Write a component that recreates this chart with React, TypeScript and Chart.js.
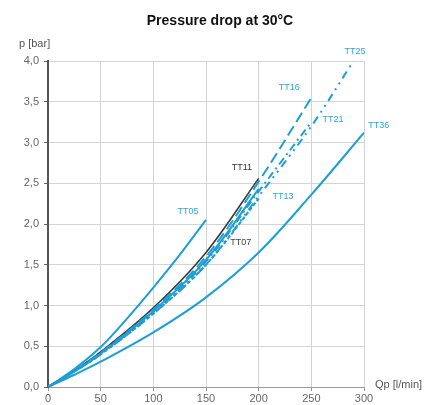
import React, { useEffect, useRef } from "react";
import { Chart, registerables } from "chart.js";

Chart.register(...registerables);

const TITLE = "Pressure drop at 30°C";
const Y_TITLE = "p [bar]";
const X_TITLE = "Qp [l/min]";

const X_TICKS = [0, 50, 100, 150, 200, 250, 300];
const Y_TICKS = [0, 0.5, 1.0, 1.5, 2.0, 2.5, 3.0, 3.5, 4.0];

const TT05_Q = [0, 25, 50, 75, 100, 125, 150];
const TT05_P = [0, 0.22, 0.49, 0.84, 1.22, 1.62, 2.05];

const TT07_Q = [0, 25, 50, 100, 150, 200];
const TT07_P = [0, 0.19, 0.41, 0.93, 1.56, 2.43];

const TT11_Q = [0, 25, 50, 100, 150, 200];
const TT11_P = [0, 0.2, 0.43, 0.97, 1.65, 2.56];

const TT13_Q = [0, 25, 50, 100, 150, 200];
const TT13_P = [0, 0.19, 0.4, 0.9, 1.5, 2.31];

const TT16_Q = [0, 25, 50, 100, 150, 200, 250];
const TT16_P = [0, 0.2, 0.42, 0.95, 1.6, 2.52, 3.55];

const TT21_Q = [0, 25, 50, 100, 150, 200, 250];
const TT21_P = [0, 0.19, 0.41, 0.92, 1.54, 2.4, 3.25];

const TT25_Q = [0, 25, 50, 100, 150, 200, 250, 290];
const TT25_P = [0, 0.19, 0.4, 0.9, 1.5, 2.34, 3.2, 4.0];

const TT36_Q = [0, 25, 50, 100, 150, 200, 250, 300];
const TT36_P = [0, 0.15, 0.31, 0.67, 1.1, 1.65, 2.36, 3.12];

const CYAN = "#1d9fd5";
const GRAY = "#3a3a3a";

type S = { name: string; q: number[]; p: number[]; color: string; dash: number[]; labelColor: string; lq: number; lp: number };

const SERIES: S[] = [
  { name: "TT05", q: TT05_Q, p: TT05_P, color: CYAN, dash: [], labelColor: "#2aa6dc", lq: 133, lp: 2.15 },
  { name: "TT36", q: TT36_Q, p: TT36_P, color: CYAN, dash: [], labelColor: "#2aa6dc", lq: 314, lp: 3.21 },
  { name: "TT13", q: TT13_Q, p: TT13_P, color: CYAN, dash: [4, 2], labelColor: "#2aa6dc", lq: 223, lp: 2.34 },
  { name: "TT21", q: TT21_Q, p: TT21_P, color: CYAN, dash: [8, 4, 2, 4], labelColor: "#2aa6dc", lq: 270.5, lp: 3.28 },
  { name: "TT25", q: TT25_Q, p: TT25_P, color: CYAN, dash: [8, 5, 2, 5, 2, 5], labelColor: "#2aa6dc", lq: 291.5, lp: 4.12 },
  { name: "TT16", q: TT16_Q, p: TT16_P, color: CYAN, dash: [11, 5], labelColor: "#2aa6dc", lq: 229, lp: 3.67 },
  { name: "TT07", q: TT07_Q, p: TT07_P, color: CYAN, dash: [], labelColor: "#444", lq: 183, lp: 1.77 },
  { name: "TT11", q: TT11_Q, p: TT11_P, color: GRAY, dash: [], labelColor: "#333", lq: 184, lp: 2.69 },
];

const FONT = "'Liberation Sans', Arial, sans-serif";

const textPlugin = {
  id: "texts",
  afterDraw(chart: any) {
    const ctx = chart.ctx;
    const xs = chart.scales.x;
    const ys = chart.scales.y;
    ctx.save();
    ctx.textBaseline = "middle";
    ctx.textAlign = "center";
    ctx.fillStyle = "#111";
    ctx.font = "bold 14px " + FONT;
    ctx.fillText(TITLE, 220, 21);
    ctx.font = "11px " + FONT;
    ctx.fillStyle = "#555";
    ctx.textAlign = "left";
    ctx.fillText(Y_TITLE, 19, 44);
    ctx.fillText(X_TITLE, 375, 385);
    ctx.font = "9px " + FONT;
    ctx.textAlign = "center";
    SERIES.forEach((s) => {
      ctx.fillStyle = s.labelColor;
      ctx.fillText(s.name, xs.getPixelForValue(s.lq), ys.getPixelForValue(s.lp));
    });
    ctx.restore();
  },
};

export default function App() {
  const ref = useRef<HTMLCanvasElement>(null);
  useEffect(() => {
    const chart = new Chart(ref.current as HTMLCanvasElement, {
      type: "line",
      data: {
        datasets: SERIES.map((s) => ({
          label: s.name,
          data: s.q.map((q, i) => ({ x: q, y: s.p[i] })),
          borderColor: s.color,
          borderWidth: s.name === "TT11" ? 1.6 : 2,
          borderDash: s.dash,
          pointRadius: 0,
          tension: 0.35,
          fill: false,
        })),
      },
      options: {
        responsive: false,
        animation: false,
        layout: { padding: { left: 0, right: 78, top: 61, bottom: 0 } },
        plugins: { legend: { display: false }, title: { display: false }, tooltip: { enabled: false } },
        scales: {
          x: {
            type: "linear",
            min: 0,
            max: 300,
            afterBuildTicks: (s: any) => { s.ticks = X_TICKS.map((v) => ({ value: v })); },
            afterFit: (s: any) => { s.height = 18; },
            grid: { color: "#d4d4d4", lineWidth: 1, tickLength: 4, drawTicks: true, tickColor: "#999" },
            border: { color: "#999", width: 1 },
            ticks: { color: "#666", font: { size: 11, family: FONT }, padding: 1, maxRotation: 0, callback: (v: any) => String(v) },
          },
          y: {
            type: "linear",
            min: 0,
            max: 4,
            afterBuildTicks: (s: any) => { s.ticks = Y_TICKS.map((v) => ({ value: v })); },
            afterFit: (s: any) => { s.width = 48; },
            grid: { color: "#d4d4d4", lineWidth: 1, tickLength: 4, drawTicks: true, tickColor: "#666" },
            border: { color: "#555", width: 2 },
            ticks: { color: "#666", font: { size: 11, family: FONT }, padding: 5, callback: (v: any) => Number(v).toFixed(1).replace(".", ",") },
          },
        },
      },
      plugins: [textPlugin],
    });
    return () => chart.destroy();
  }, []);
  return (
    <div style={{ position: "fixed", left: 0, top: 0, width: 442, height: 405, background: "#fff" }}>
      <canvas ref={ref} width={442} height={405} />
    </div>
  );
}
